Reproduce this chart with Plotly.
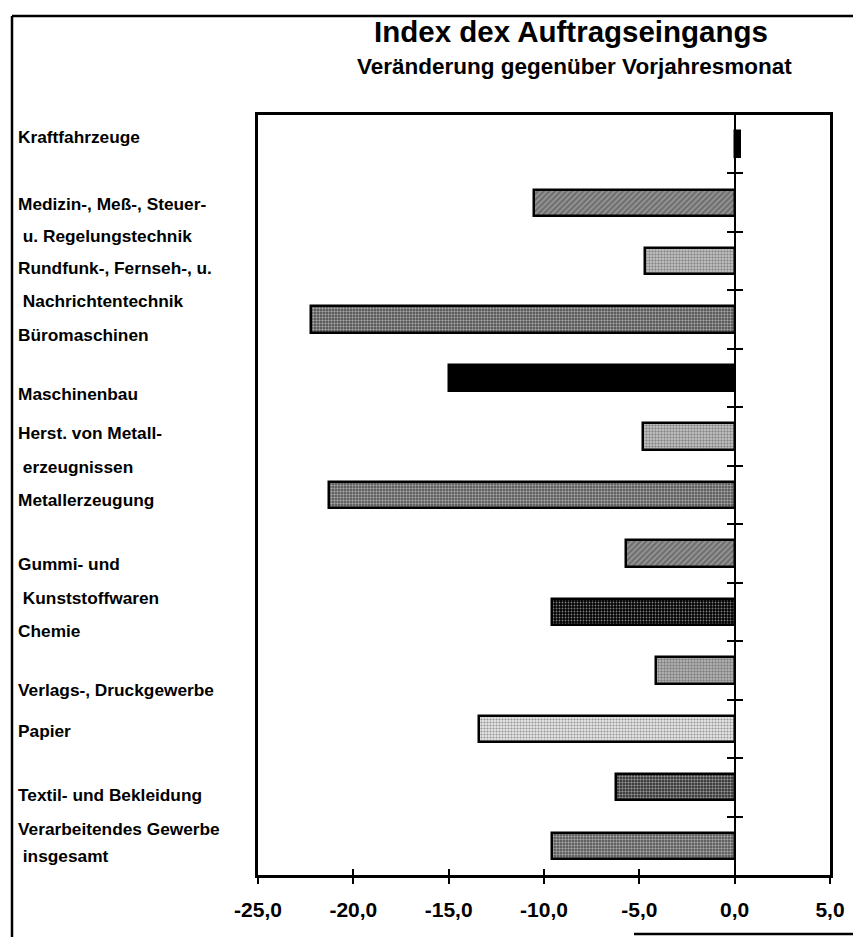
import plotly.graph_objects as go

# ---------------- data ----------------
categories = [
    ["Kraftfahrzeuge"],
    ["Medizin-, Meß-, Steuer-", "\u00a0u. Regelungstechnik"],
    ["Rundfunk-, Fernseh-, u.", "\u00a0Nachrichtentechnik"],
    ["Büromaschinen"],
    ["Maschinenbau"],
    ["Herst. von Metall-", "\u00a0erzeugnissen"],
    ["Metallerzeugung"],
    ["Gummi- und", "\u00a0Kunststoffwaren"],
    ["Chemie"],
    ["Verlags-, Druckgewerbe"],
    ["Papier"],
    ["Textil- und Bekleidung"],
    ["Verarbeitendes Gewerbe", "\u00a0insgesamt"],
]
values = [0.3, -10.5, -4.7, -22.2, -15.0, -4.8, -21.3, -5.7, -9.6, -4.1, -13.4, -6.2, -9.6]
x_ticks = [-25, -20, -15, -10, -5, 0, 5]
x_ticktext = [f"{v:.1f}".replace(".", ",") for v in x_ticks]
title = "Index dex Auftragseingangs"
subtitle = "Veränderung gegenüber Vorjahresmonat"

# ---------------- styles ----------------
# label line offsets (pixels below the category centre), one list per category
label_offsets = [[-7], [1, 33], [7, 40], [15], [16], [-4, 30], [5], [11, 45], [19], [20], [2], [8], [-17, 10]]
pat_shape = ["", "/", ".", ".", "", ".", ".", "/", ".", ".", ".", ".", "."]
pat_fg = ["black", "black", "black", "black", "black", "black", "black", "black", "#666666",
          "black", "black", "black", "black"]
pat_bg = ["black", "#999999", "#cccccc", "#444444", "black", "#cccccc", "#4a4a4a", "#999999",
          "black", "#bbbbbb", "#e6e6e6", "#222222", "#4a4a4a"]
pat_solid = [1, 0.6, 0.5, 0.5, 1, 0.5, 0.5, 0.6, 0.3, 0.5, 0.4, 0.5, 0.5]
pat_size = [4, 4, 3, 3, 4, 3, 3, 4, 3, 3, 3, 3, 3]
bar_color = ["black" if s == "" else b for s, b in zip(pat_shape, pat_bg)]

OFF = 8                      # browser body margin
W, H = 861 - OFF, 937 - OFF
L, T = 258 - OFF, 115 - OFF
R, B = W - (830 - OFF), H - (875 - OFF)
pw, ph = W - L - R, H - T - B
FONT = "Liberation Sans"

def px_x(p):
    return (p - OFF - L) / pw

def px_y(q):
    return (H - B - (q - OFF)) / ph

idx = list(range(len(values)))
yrange = [len(values) - 0.5, -0.5]
zero_pos = (0 - x_ticks[0]) / (x_ticks[-1] - x_ticks[0])

fig = go.Figure()
fig.add_trace(go.Bar(
    x=values, y=idx, orientation="h", width=0.45,
    marker=dict(
        color=bar_color,
        line=dict(color="black", width=2.5),
        pattern=dict(shape=pat_shape, fgcolor=pat_fg, bgcolor=pat_bg,
                     solidity=pat_solid, size=pat_size),
    ),
    hoverinfo="x+y", showlegend=False,
))
# invisible helpers so the extra axes (zero line with crossing ticks) are drawn
fig.add_trace(go.Scatter(x=values, y=idx, xaxis="x2", yaxis="y2", mode="markers",
                         marker=dict(opacity=0), hoverinfo="skip", showlegend=False))
fig.add_trace(go.Scatter(x=values, y=idx, xaxis="x", yaxis="y3", mode="markers",
                         marker=dict(opacity=0), hoverinfo="skip", showlegend=False))

boundaries = [i + 0.5 for i in idx[:-1]]

fig.update_layout(
    width=W, height=H,
    margin=dict(l=L, r=R, t=T, b=B),
    paper_bgcolor="white", plot_bgcolor="white",
    font=dict(family=FONT, color="black"),
    bargap=0,
    xaxis=dict(range=[x_ticks[0], x_ticks[-1]], tickvals=x_ticks, ticktext=x_ticktext,
               showgrid=False, zeroline=False, showline=True, linecolor="black", linewidth=2.5,
               mirror=True, ticks="outside", ticklen=6, tickwidth=1.5, tickcolor="black",
               tickfont=dict(family=FONT, size=21, color="black", weight="bold"),
               ticklabelstandoff=8),
    xaxis2=dict(range=[x_ticks[0], x_ticks[-1]], tickvals=x_ticks, overlaying="x", anchor="y",
                side="bottom", showgrid=False, zeroline=False, showline=False,
                ticks="inside", ticklen=6, tickwidth=1.5, tickcolor="black", showticklabels=False),
    yaxis=dict(range=yrange, showgrid=False, zeroline=False, showline=True, linecolor="black",
               linewidth=2.5, mirror=True, ticks="", showticklabels=False),
    yaxis2=dict(range=yrange, overlaying="y", anchor="free", position=zero_pos, side="left",
                showgrid=False, zeroline=False, showline=True, linecolor="black", linewidth=2,
                tickvals=boundaries, ticks="outside", ticklen=7, tickwidth=2, tickcolor="black",
                showticklabels=False),
    yaxis3=dict(range=yrange, overlaying="y", anchor="free", position=zero_pos, side="right",
                showgrid=False, zeroline=False, showline=False,
                tickvals=boundaries, ticks="outside", ticklen=7, tickwidth=2, tickcolor="black",
                showticklabels=False),
)

ann = []
ann.append(dict(text=f"<b>{title}</b>", xref="paper", yref="paper", x=px_x(571), y=px_y(31),
                xanchor="center", yanchor="middle", showarrow=False,
                font=dict(family=FONT, size=29.5, color="black")))
ann.append(dict(text=f"<b>{subtitle}</b>", xref="paper", yref="paper", x=px_x(574), y=px_y(66),
                xanchor="center", yanchor="middle", showarrow=False,
                font=dict(family=FONT, size=22.5, color="black")))
for i, (lines, offs) in enumerate(zip(categories, label_offsets)):
    for line, off in zip(lines, offs):
        ann.append(dict(text=f"<b>{line}</b>", xref="paper", yref="y", x=px_x(16), y=i,
                        yshift=-off, xanchor="left", yanchor="middle", showarrow=False,
                        font=dict(family=FONT, size=17.3, color="black")))
fig.update_layout(annotations=ann)

# outer frame of the scanned page
frame = dict(type="line", xref="paper", yref="paper", line=dict(color="black", width=2.5))
fig.update_layout(shapes=[
    dict(frame, x0=px_x(12), x1=px_x(12), y0=px_y(16), y1=px_y(937)),
    dict(frame, x0=px_x(12), x1=px_x(861), y0=px_y(16), y1=px_y(16)),
    dict(frame, x0=px_x(634), x1=px_x(861), y0=px_y(934), y1=px_y(934)),
])

fig.write_html("out.html")
